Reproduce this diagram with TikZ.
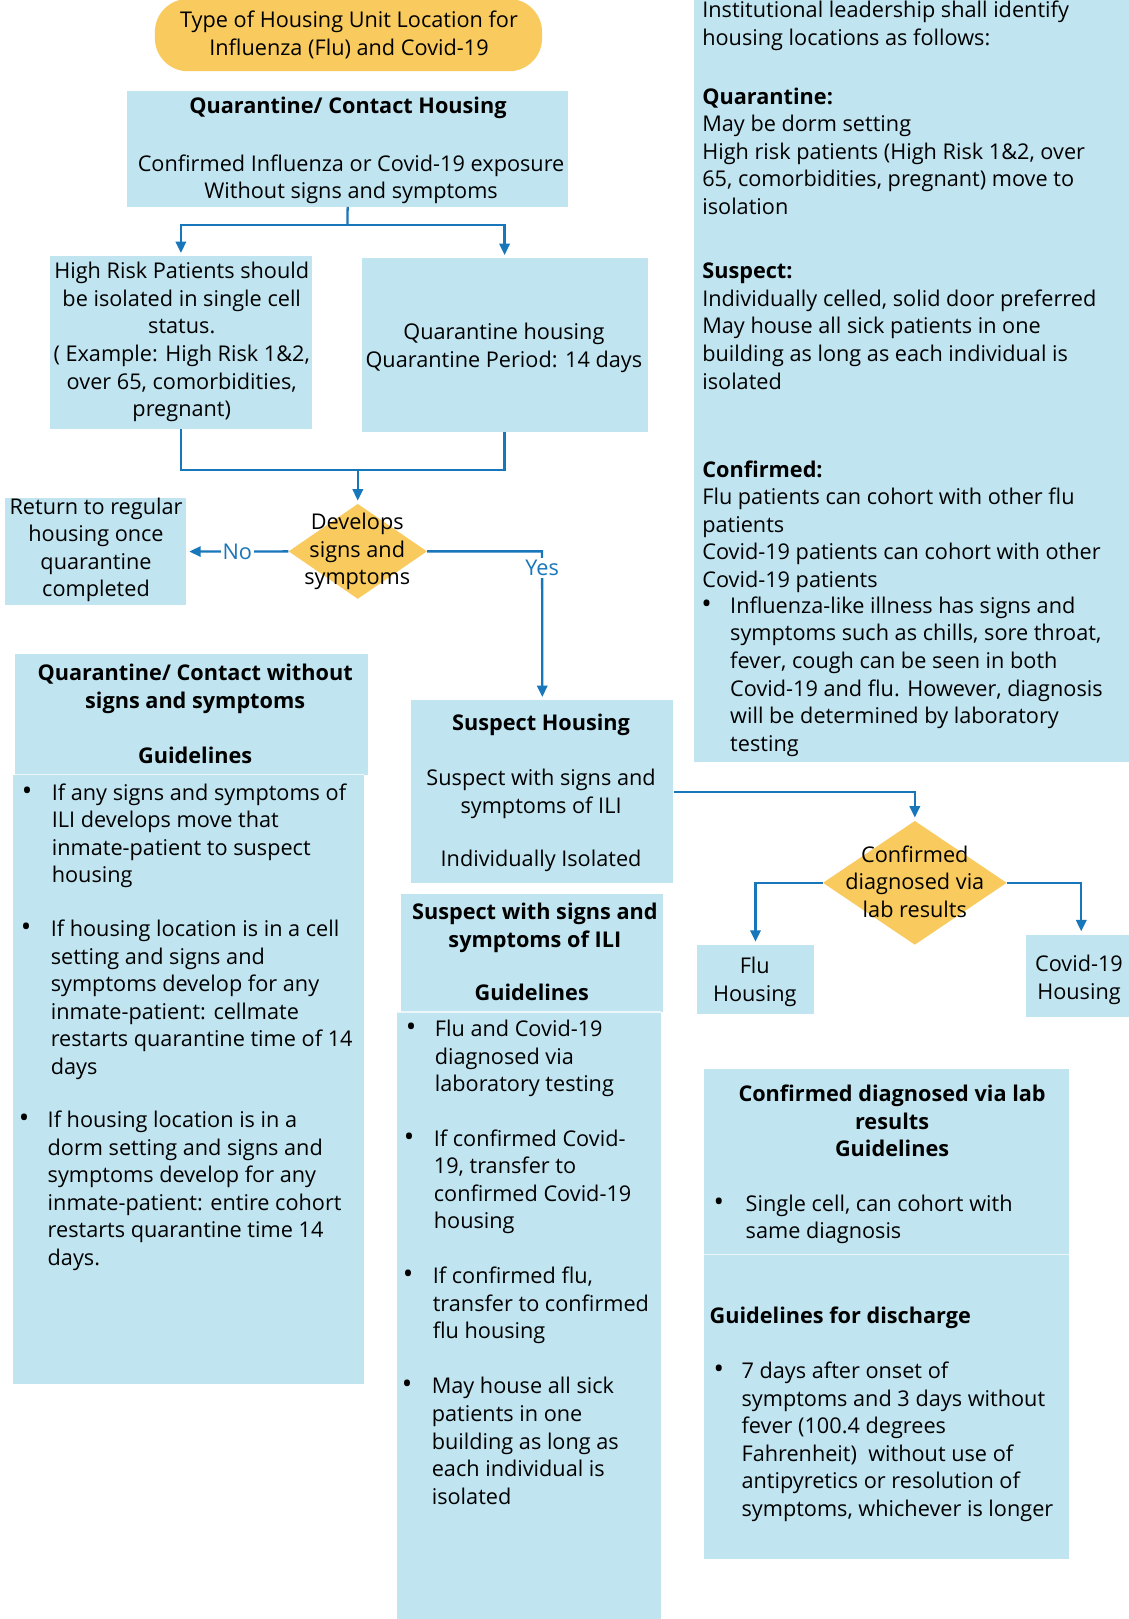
\documentclass[tikz,border=0pt]{standalone}
\usepackage{fontspec}
\setmainfont{Open Sans}
\usetikzlibrary{arrows.meta,shapes.geometric}
\definecolor{boxblue}{RGB}{192,229,241}
\definecolor{gold}{RGB}{249,203,94}
\definecolor{lineblue}{RGB}{24,118,186}
\newcommand\fsz{\fontsize{21}{26.7}\selectfont}
\newcommand\TL[1]{\begin{tabular}[t]{@{}l@{}}#1\end{tabular}}
\newcommand\TC[1]{\begin{tabular}[t]{@{}c@{}}#1\end{tabular}}
\newcommand\bul{{\fontsize{27}{27}\selectfont •}}
\begin{document}
\begin{tikzpicture}[x=1pt,y=-1pt,
  bluebox/.style={fill=boxblue, draw=none, inner sep=0, anchor=north west},
  diam/.style={diamond, fill=gold, draw=none, inner sep=0},
  txt/.style={inner sep=0, font=\fsz, anchor=base},
  ltxt/.style={inner sep=0, font=\fsz, anchor=base west},
  conn/.style={draw=lineblue, line width=2.2pt},
  arr/.style={conn, -{Triangle[length=11pt,width=10pt]}, shorten >=3pt},
  seam/.style={draw=white, line width=1.2pt, opacity=0.7},
  lbl/.style={inner sep=2pt, font=\fsz, text=lineblue, fill=white}
]
\useasboundingbox[fill=white] (0,0) rectangle (1093,1568);

% ---------- boxes ----------
\node[fill=gold, draw=none, inner sep=0, rounded corners=32, minimum width=375, minimum height=70] (title) at (337.5,34) {};
\node[bluebox, minimum width=425, minimum height=740] (inst) at (672,-2) {};
\node[bluebox, minimum width=427, minimum height=112] (qch) at (123,88) {};
\node[bluebox, minimum width=254, minimum height=167] (hr) at (48,248) {};
\node[bluebox, minimum width=277, minimum height=168] (qh) at (350,250) {};
\node[bluebox, minimum width=175, minimum height=104] (ret) at (5,482) {};
\node[diam, minimum width=134, minimum height=92] (dev) at (346.5,534) {};
\node[bluebox, minimum width=342, minimum height=117] (lgh) at (14,633) {};
\node[bluebox, minimum width=340, minimum height=590] (lgb) at (12,750) {};
\node[bluebox, minimum width=254, minimum height=177] (sh) at (398,678) {};
\node[bluebox, minimum width=254, minimum height=114] (sgh) at (388,866) {};
\node[bluebox, minimum width=256, minimum height=592] (sgb) at (384,980) {};
\node[diam, minimum width=178, minimum height=120] (conf) at (886,855) {};
\node[bluebox, minimum width=113, minimum height=67] (flu) at (675,915) {};
\node[bluebox, minimum width=108, minimum height=80] (cov) at (993,905) {};
\node[bluebox, minimum width=353, minimum height=180] (cgh) at (682,1035) {};
\node[bluebox, minimum width=353, minimum height=295] (cgb) at (682,1215) {};

% faint seams between stacked boxes
\draw[seam] (lgb.north west) -- (lgb.north east);
\draw[seam] (sgb.north west) -- (sgb.north east);
\draw[seam] (cgb.north west) -- (cgb.north east);

% ---------- connectors ----------
\coordinate (split) at (336.5,218);
\draw[conn] (qch.south) -- (split);
\draw[arr] (split) -| (hr.north);
\draw[arr] (split) -| (qh.north);
\coordinate (merge) at (346.5,455);
\draw[conn] (hr.south) |- (merge);
\draw[conn] (qh.south) |- (merge);
\draw[arr] (merge) -- (dev.north);
\draw[arr] (dev.west) -- node[lbl] (no) {No} (ret.east);
\coordinate (ycorner) at (525,534);
\draw[arr] (dev.east) -- (ycorner) -- (sh.north);
\node[lbl] (yes) at (525,550) {Yes};
\draw[arr] (sh.east) -| (conf.north);
\draw[arr] (conf.west) -| (flu.north);
\draw[arr] (conf.east) -| (cov.north);

% ---------- texts ----------
\node[txt] (t-title) at (338,27) {\TC{Type of Housing Unit Location for\\Influenza (Flu) and Covid-19}};

\node[txt] (t-qch1) at (337,110) {\textbf{Quarantine/ Contact Housing}};
\node[txt] (t-qch2) at (340,166) {\TC{Confirmed Influenza or Covid-19 exposure\\Without signs and symptoms}};

\node[txt] (t-hr) at (176,270) {\TC{High Risk Patients should\\be isolated in single cell\\status.\\( Example: High Risk 1\&2,\\over 65, comorbidities,\\pregnant)}};
\node[txt] (t-qh) at (488,329) {\TC{Quarantine housing\\Quarantine Period: 14 days}};

\node[txt] (t-ret) at (93,498) {\TC{Return to regular\\housing once\\quarantine\\completed}};
\node[txt] (t-dev) at (346,513) {\TC{Develops\\signs and\\symptoms}};

% right column
\node[ltxt] (t-i1) at (680,17) {\TL{Institutional leadership shall identify\\housing locations as follows:}};
\node[ltxt] (t-i2) at (680,101) {\TL{\textbf{Quarantine:}\\May be dorm setting\\High risk patients (High Risk 1\&2, over\\65, comorbidities, pregnant) move to\\isolation}};
\node[ltxt] (t-i3) at (680,270) {\TL{\textbf{Suspect:}\\Individually celled, solid door preferred\\May house all sick patients in one\\building as long as each individual is\\isolated}};
\node[ltxt] (t-i4) at (680,462) {\TL{\textbf{Confirmed:}\\Flu patients can cohort with other flu\\patients\\Covid-19 patients can cohort with other\\Covid-19 patients}};
\node[ltxt] (b-i5) at (679,594) {\bul};
\node[ltxt] (t-i5) at (707,594) {\TL{Influenza-like illness has signs and\\symptoms such as chills, sore throat,\\fever, cough can be seen in both\\Covid-19 and flu. However, diagnosis\\will be determined by laboratory\\testing}};

% left guidelines
\node[txt] (t-lg1) at (189,659) {\TC{\textbf{Quarantine/ Contact without}\\\textbf{signs and symptoms}}};
\node[txt] (t-lg2) at (189,739) {\textbf{Guidelines}};
\node[ltxt] (b-lg1) at (21,775) {\bul};
\node[ltxt] (t-lg3) at (50,775) {\TL{If any signs and symptoms of\\ILI develops move that\\inmate-patient to suspect\\housing}};
\node[ltxt] (b-lg2) at (20,907) {\bul};
\node[ltxt] (t-lg4) at (49,907) {\TL{If housing location is in a cell\\setting and signs and\\symptoms develop for any\\inmate-patient: cellmate\\restarts quarantine time of 14\\days}};
\node[ltxt] (b-lg3) at (18,1092) {\bul};
\node[ltxt] (t-lg5) at (46,1092) {\TL{If housing location is in a\\dorm setting and signs and\\symptoms develop for any\\inmate-patient: entire cohort\\restarts quarantine time 14\\days.}};

% suspect housing
\node[txt] (t-sh1) at (524,707) {\textbf{Suspect Housing}};
\node[txt] (t-sh2) at (524,761) {\TC{Suspect with signs and\\symptoms of ILI}};
\node[txt] (t-sh3) at (524,839) {Individually Isolated};

% suspect guidelines
\node[txt] (t-sg1) at (518,891) {\TC{\textbf{Suspect with signs and}\\\textbf{symptoms of ILI}}};
\node[txt] (t-sg2) at (515,969) {\textbf{Guidelines}};
\node[ltxt] (b-sg1) at (393,1004) {\bul};
\node[ltxt] (t-sg3) at (421,1004) {\TL{Flu and Covid-19\\diagnosed via\\laboratory testing}};
\node[ltxt] (b-sg2) at (391,1110) {\bul};
\node[ltxt] (t-sg4) at (420,1110) {\TL{If confirmed Covid-\\19, transfer to\\confirmed Covid-19\\housing}};
\node[ltxt] (b-sg3) at (390,1243) {\bul};
\node[ltxt] (t-sg5) at (419,1243) {\TL{If confirmed flu,\\transfer to confirmed\\flu housing}};
\node[ltxt] (b-sg4) at (389,1350) {\bul};
\node[ltxt] (t-sg6) at (418,1350) {\TL{May house all sick\\patients in one\\building as long as\\each individual is\\isolated}};

% confirmed diamond and outcomes
\node[txt] (t-conf) at (886,835) {\TC{Confirmed\\diagnosed via\\lab results}};
\node[txt] (t-flu) at (731,943) {\TC{Flu\\Housing}};
\node[txt] (t-cov) at (1045,941) {\TC{Covid-19\\Housing}};

% confirmed guidelines
\node[txt] (t-cg1) at (864,1067) {\TC{\textbf{Confirmed diagnosed via lab}\\\textbf{results}\\\textbf{Guidelines}}};
\node[ltxt] (b-cg1) at (691,1173) {\bul};
\node[ltxt] (t-cg2) at (722,1173) {\TL{Single cell, can cohort with\\same diagnosis}};
\node[ltxt] (t-cg3) at (687,1282) {\textbf{Guidelines for discharge}};
\node[ltxt] (b-cg2) at (691,1335) {\bul};
\node[ltxt] (t-cg4) at (718,1335) {\TL{7 days after onset of\\symptoms and 3 days without\\fever (100.4 degrees\\Fahrenheit)\ \ without use of\\antipyretics or resolution of\\symptoms, whichever is longer}};
\end{tikzpicture}
\end{document}
